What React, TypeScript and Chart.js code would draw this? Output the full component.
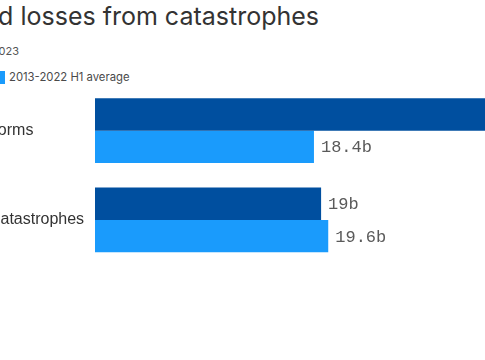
import React, { useEffect, useRef } from "react";
import { Chart, registerables } from "chart.js";

Chart.register(...registerables);

const categories = ["Severe thunderstorms", "All other natural catastrophes"];
const seriesNames = ["H1 2023", "2013-2022 H1 average"];
const h1_2023 = [35, 19];
const avg2013_2022 = [18.4, 19.6];
const seriesColors = ["#004f9f", "#1a9bfc"];

const CANVAS_L = 124;
const AXIS_W = 95 + CANVAS_L;
const CANVAS_W = AXIS_W + 476;

const valueLabelPlugin = {
  id: "valueLabels",
  afterDatasetsDraw(chart: any) {
    const ctx = chart.ctx;
    ctx.save();
    ctx.font = '17px "Liberation Mono", monospace';
    ctx.fillStyle = "#5a5a5a";
    ctx.textBaseline = "middle";
    ctx.textAlign = "left";
    chart.data.datasets.forEach((ds: any, i: number) => {
      const meta = chart.getDatasetMeta(i);
      meta.data.forEach((bar: any, j: number) => {
        ctx.fillText(`${ds.data[j]}b`, bar.x + 7, bar.y + 1);
      });
    });
    ctx.restore();
  },
};

export default function App() {
  const ref = useRef<HTMLCanvasElement | null>(null);

  useEffect(() => {
    if (!ref.current) return;
    const chart = new Chart(ref.current, {
      type: "bar",
      data: {
        labels: categories,
        datasets: [
          { label: seriesNames[0], data: h1_2023, backgroundColor: seriesColors[0] },
          { label: seriesNames[1], data: avg2013_2022, backgroundColor: seriesColors[1] },
        ],
      },
      options: {
        indexAxis: "y",
        responsive: false,
        animation: false,
        layout: { padding: { top: 86, bottom: 95.5, left: 0, right: 0 } },
        datasets: { bar: { categoryPercentage: 0.724, barPercentage: 1 } },
        plugins: { legend: { display: false }, tooltip: { enabled: false } },
        scales: {
          x: { display: false, min: 0, max: 40 },
          y: {
            grid: { display: false },
            border: { display: false },
            ticks: {
              crossAlign: "far",
              padding: 0,
              color: "#333333",
              font: { family: "'Liberation Sans', Arial, sans-serif", size: 16 },
            },
            afterFit: (s: any) => {
              s.width = AXIS_W;
            },
          },
        },
      } as any,
      plugins: [valueLabelPlugin],
    });
    return () => chart.destroy();
  }, []);

  const font = "Inter, 'Liberation Sans', sans-serif";

  return (
    <div
      style={{
        position: "fixed",
        left: 0,
        top: 0,
        width: 485,
        height: 360,
        overflow: "hidden",
        background: "#ffffff",
        fontFamily: font,
      }}
    >
      <div
        style={{
          position: "absolute",
          right: 485 - 319,
          top: 4,
          fontSize: 25,
          lineHeight: "25px",
          color: "#333333",
          whiteSpace: "nowrap",
        }}
      >
        Insured losses from catastrophes
      </div>
      <div
        style={{
          position: "absolute",
          right: 485 - 19,
          top: 45,
          fontSize: 11,
          lineHeight: "13px",
          color: "#555555",
          whiteSpace: "nowrap",
        }}
      >
        H1 2023
      </div>
      <div
        style={{
          position: "absolute",
          left: -90,
          top: 71,
          width: 12,
          height: 13,
          background: seriesColors[0],
        }}
      />
      <div
        style={{
          position: "absolute",
          left: -75,
          top: 71,
          fontSize: 11.3,
          lineHeight: "13px",
          color: "#4a4a4a",
          whiteSpace: "nowrap",
        }}
      >
        {seriesNames[0]}
      </div>
      <div
        style={{
          position: "absolute",
          left: -7,
          top: 71,
          width: 12,
          height: 13,
          background: seriesColors[1],
        }}
      />
      <div
        style={{
          position: "absolute",
          left: 9,
          top: 71,
          fontSize: 11.3,
          lineHeight: "13px",
          color: "#4a4a4a",
          whiteSpace: "nowrap",
        }}
      >
        {seriesNames[1]}
      </div>
      <canvas
        ref={ref}
        width={CANVAS_W}
        height={360}
        style={{ position: "absolute", left: -CANVAS_L, top: 0, width: CANVAS_W, height: 360 }}
      />
    </div>
  );
}
